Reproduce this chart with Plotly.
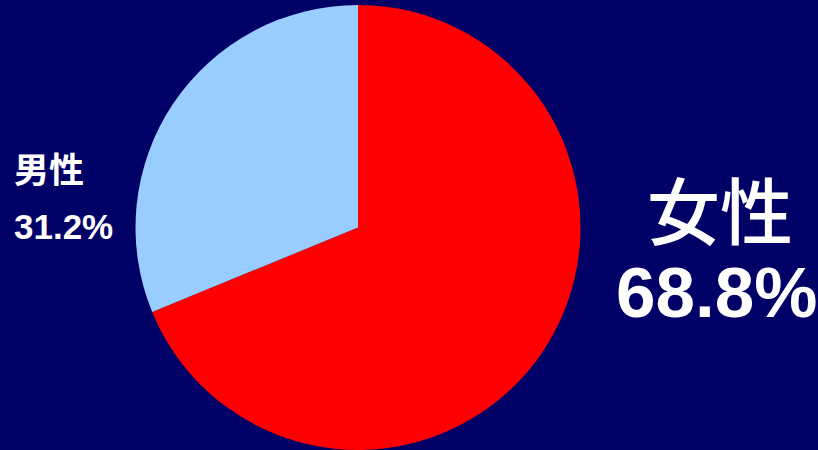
import plotly.graph_objects as go

labels = ["女性", "男性"]
values = [68.8, 31.2]
colors = ["#FF0000", "#99CCFF"]

W, H = 818, 450
BG = "#000066"

cx, cy, r = 358, 228, 223  # pie center/radius in px (from top-left)

fig = go.Figure(go.Pie(
    labels=labels, values=values, sort=False, direction="clockwise", rotation=0,
    marker=dict(colors=colors, line=dict(width=0)),
    textinfo="none", hoverinfo="label+percent", showlegend=False,
    domain=dict(x=[(cx - r) / W, (cx + r) / W], y=[max(0, (H - cy - r) / H), (H - cy + r) / H]),
))

def px(x, y):
    return x / W, 1 - y / H

ann = []
# male label (left)
x, y = px(12, 167)
ann.append(dict(text="<b>男性</b>", x=x, y=y, xanchor="left", yanchor="middle",
                font=dict(size=35, color="white", family="Noto Sans CJK JP")))
x, y = px(12, 226)
ann.append(dict(text="<b>%.1f%%</b>" % values[1], x=x, y=y, xanchor="left", yanchor="middle",
                font=dict(size=35, color="white", family="Liberation Sans, Arial")))
# female label (right)
x, y = px(720, 207)
ann.append(dict(text="女性", x=x, y=y, xanchor="center", yanchor="middle",
                font=dict(size=73, color="white", family="Noto Sans CJK JP", weight=500)))
x, y = px(716, 292)
ann.append(dict(text="<b>%.1f%%</b>" % values[0], x=x, y=y, xanchor="center", yanchor="middle",
                font=dict(size=71, color="white", family="Liberation Sans, Arial")))
for a in ann:
    a.update(xref="paper", yref="paper", showarrow=False)

fig.update_layout(
    width=W, height=H, margin=dict(l=0, r=0, t=0, b=0),
    paper_bgcolor=BG, plot_bgcolor=BG, annotations=ann,
)
fig.write_html("out.html")
